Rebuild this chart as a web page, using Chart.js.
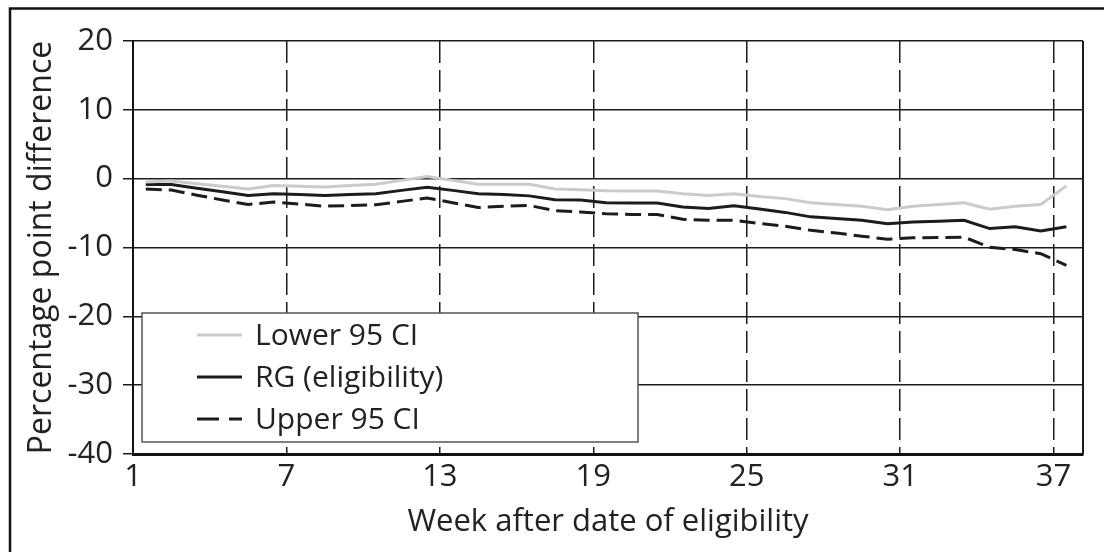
<!DOCTYPE html>
<html>
<head>
<meta charset="utf-8">
<title>RG eligibility</title>
<script src="https://cdn.jsdelivr.net/npm/chart.js@4.4.1/dist/chart.umd.min.js"></script>
<style>
  html, body { margin: 0; padding: 0; background: #fff; }
  #wrap { width: 1104px; height: 552px; }
</style>
</head>
<body>
<div id="wrap"><canvas id="chart" width="1104" height="552"></canvas></div>
<script>
// weeks are plotted at the middle of each week
const weeks = [1.5, 2.5, 3.5, 4.5, 5.5, 6.5, 7.5, 8.5, 9.5, 10.5, 11.5, 12.5, 13.5, 14.5, 15.5, 16.5, 17.5, 18.5, 19.5,
  20.5, 21.5, 22.5, 23.5, 24.5, 25.5, 26.5, 27.5, 28.5, 29.5, 30.5, 31.5, 32.5, 33.5, 34.5, 35.5, 36.5, 37.5];

const lowerCI = [-0.5, -0.35, -0.75, -1.1, -1.5, -1.0, -1.1, -1.2, -1.0, -0.8, -0.25, 0.3, -0.25, -0.8, -0.8, -0.8, -1.5, -1.6, -1.75,
  -1.8, -1.8, -2.2, -2.45, -2.2, -2.6, -2.9, -3.5, -3.75, -4.0, -4.5, -4.0, -3.75, -3.5, -4.45, -4.0, -3.75, -1.05];

const rgEligibility = [-0.85, -0.85, -1.4, -1.9, -2.45, -2.2, -2.3, -2.45, -2.3, -2.2, -1.7, -1.25, -1.7, -2.2, -2.3, -2.5, -3.05, -3.1, -3.5,
  -3.55, -3.55, -4.1, -4.35, -3.95, -4.4, -4.9, -5.55, -5.8, -6.05, -6.55, -6.3, -6.2, -6.05, -7.25, -7.0, -7.6, -7.0];

const upperCI = [-1.5, -1.65, -2.4, -3.1, -3.75, -3.4, -3.7, -4.0, -3.9, -3.8, -3.3, -2.8, -3.5, -4.2, -4.0, -3.9, -4.65, -4.85, -5.1,
  -5.2, -5.2, -5.9, -6.05, -6.05, -6.5, -6.9, -7.5, -7.9, -8.35, -8.8, -8.6, -8.55, -8.5, -9.95, -10.3, -10.9, -12.6];

const xTicks = [1, 7, 13, 19, 25, 31, 37];
const yTicks = [-40, -30, -20, -10, 0, 10, 20];

const ink = "#1c1c1c";
Chart.defaults.font.family = "'Open Sans', 'Noto Sans', sans-serif";
Chart.defaults.color = "#222";

function points(vals) {
  return weeks.map((w, i) => ({ x: w, y: vals[i] }));
}

// legend box sitting inside the plot, bottom left
const legendBox = {
  id: "legendBox",
  afterDatasetsDraw(chart) {
    const { ctx, chartArea } = chart;
    const x0 = chartArea.left + 9, y0 = chartArea.bottom - 141, w = 496, h = 129;
    ctx.save();
    ctx.fillStyle = "#fff";
    ctx.fillRect(x0, y0, w, h);
    ctx.strokeStyle = "#555";
    ctx.lineWidth = 1.5;
    ctx.strokeRect(x0, y0, w, h);
    ctx.font = "30px 'Open Sans', 'Noto Sans', sans-serif";
    ctx.textBaseline = "middle";
    chart.data.datasets.forEach((ds, i) => {
      const cy = y0 + 22 + i * 42;
      ctx.strokeStyle = ds.borderColor;
      ctx.lineWidth = ds.borderWidth;
      ctx.setLineDash(ds.borderDash && ds.borderDash.length ? [22, 10] : []);
      ctx.beginPath();
      ctx.moveTo(x0 + 55, cy);
      ctx.lineTo(x0 + 100, cy);
      ctx.stroke();
      ctx.setLineDash([]);
      ctx.fillStyle = "#222";
      ctx.fillText(ds.label, x0 + 113, cy + 1);
    });
    ctx.restore();
  },
  afterDraw(chart) {
    const { ctx, chartArea } = chart;
    ctx.save();
    // right edge of the plot
    ctx.strokeStyle = ink;
    ctx.lineWidth = 2;
    ctx.beginPath();
    ctx.moveTo(chartArea.right, chartArea.top);
    ctx.lineTo(chartArea.right, chartArea.bottom);
    ctx.stroke();
    // outer frame (left and top)
    ctx.lineWidth = 2.5;
    ctx.strokeStyle = "#111";
    ctx.beginPath();
    ctx.moveTo(10, 560);
    ctx.lineTo(10, 8.5);
    ctx.lineTo(1110, 8.5);
    ctx.stroke();
    ctx.restore();
  }
};

new Chart(document.getElementById("chart"), {
  type: "line",
  data: {
    datasets: [
      { label: "Lower 95 CI", data: points(lowerCI), borderColor: "#cbcbcb", borderWidth: 3 },
      { label: "RG (eligibility)", data: points(rgEligibility), borderColor: ink, borderWidth: 3 },
      { label: "Upper 95 CI", data: points(upperCI), borderColor: ink, borderWidth: 3, borderDash: [16, 7] }
    ]
  },
  options: {
    responsive: false,
    animation: false,
    layout: { padding: { left: 0, top: 41, right: 21, bottom: 0 } },
    elements: { point: { radius: 0 }, line: { tension: 0 } },
    plugins: { legend: { display: false }, tooltip: { enabled: false } },
    scales: {
      x: {
        type: "linear",
        min: 1,
        max: 38.15,
        afterBuildTicks: (s) => { s.ticks = xTicks.map(v => ({ value: v })); },
        afterFit: (s) => { s.height = 98; },
        grid: { color: ink, lineWidth: 1.5, drawTicks: false },
        border: { display: true, color: "#111", width: 3, dash: [22, 7] },
        ticks: { font: { size: 31 }, padding: 5, maxRotation: 0 },
        title: {
          display: true,
          text: "Week after date of eligibility",
          font: { size: 31 },
          padding: { top: 0, bottom: 11 }
        }
      },
      y: {
        min: -40,
        max: 20,
        afterBuildTicks: (s) => { s.ticks = yTicks.map(v => ({ value: v })); },
        afterFit: (s) => { s.width = 133; },
        grid: { color: ink, lineWidth: 1.5, tickLength: 10, tickColor: ink },
        border: { display: true, color: "#111", width: 2 },
        ticks: { font: { size: 31 }, padding: 10 },
        title: {
          display: true,
          text: "Percentage point difference",
          font: { size: 32 },
          padding: { top: 23, bottom: 0 }
        }
      }
    }
  },
  plugins: [legendBox]
});
</script>
</body>
</html>
